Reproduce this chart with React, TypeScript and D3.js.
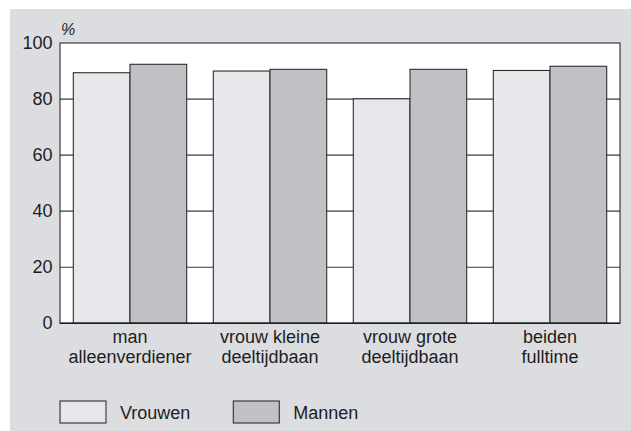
import React from "react";
import * as d3 from "d3";

const categories = [
  ["man", "alleenverdiener"],
  ["vrouw kleine", "deeltijdbaan"],
  ["vrouw grote", "deeltijdbaan"],
  ["beiden", "fulltime"],
];
const seriesNames = ["Vrouwen", "Mannen"];
const vrouwen = [89.4, 90.0, 80.1, 90.2];
const mannen = [92.4, 90.6, 90.6, 91.7];
const yTicks = [0, 20, 40, 60, 80, 100];
const unitLabel = "%";

const W = 631;
const H = 431;
const plot = { left: 60, right: 620, top: 43, bottom: 323.3 };
const colors: Record<string, string> = { Vrouwen: "#e6e7eb", Mannen: "#c0c1c5" };
const FONT = "'Liberation Sans', Arial, Helvetica, sans-serif";
const FS = 18;

export default function App() {
  const keys = categories.map((c) => c.join(" "));
  const x0 = d3
    .scaleBand<string>()
    .domain(keys)
    .range([plot.left, plot.right])
    .paddingInner(0.19)
    .paddingOuter(0.095);
  const x1 = d3.scaleBand<string>().domain(seriesNames).range([0, x0.bandwidth()]);
  const y = d3.scaleLinear().domain([0, 100]).range([plot.bottom, plot.top]);
  const values: Record<string, number[]> = { Vrouwen: vrouwen, Mannen: mannen };

  return (
    <svg
      width={W}
      height={H}
      style={{ position: "absolute", left: 0, top: 0 }}
      fontFamily={FONT}
    >
      <rect x={10} y={9} width={W - 10} height={H - 9} fill="#dcdde0" />
      <rect
        x={plot.left}
        y={plot.top}
        width={plot.right - plot.left}
        height={plot.bottom - plot.top}
        fill="#ffffff"
      />
      {yTicks.map((t) => (
        <g key={t}>
          {t > 0 && t < 100 && (
            <line
              x1={plot.left}
              x2={plot.right}
              y1={y(t)}
              y2={y(t)}
              stroke="#3a3a3a"
              strokeWidth={1.2}
            />
          )}
          <text
            x={52.5}
            y={y(t)}
            textAnchor="end"
            dominantBaseline="central"
            fontSize={FS}
            fill="#1e1e1e"
          >
            {t}
          </text>
        </g>
      ))}
      <text x={61} y={34.5} fontSize={16} fontStyle="italic" fill="#1e1e1e">
        {unitLabel}
      </text>
      {keys.map((k, i) => (
        <g key={k}>
          {seriesNames.map((s) => {
            const v = values[s][i];
            const bx = (x0(k) as number) + (x1(s) as number);
            return (
              <rect
                key={s}
                x={bx}
                y={y(v)}
                width={x1.bandwidth()}
                height={y(0) - y(v)}
                fill={colors[s]}
                stroke="#2e2e2e"
                strokeWidth={1.1}
              />
            );
          })}
          {categories[i].map((line, j) => (
            <text
              key={j}
              x={(x0(k) as number) + x0.bandwidth() / 2}
              y={342.5 + j * 20.5}
              textAnchor="middle"
              fontSize={FS}
              fill="#1e1e1e"
            >
              {line}
            </text>
          ))}
        </g>
      ))}
      <rect
        x={plot.left}
        y={plot.top}
        width={plot.right - plot.left}
        height={plot.bottom - plot.top}
        fill="none"
        stroke="#3a3a3a"
        strokeWidth={1.2}
      />
      <line
        x1={plot.left}
        x2={plot.right}
        y1={y(0)}
        y2={y(0)}
        stroke="#1e1e1e"
        strokeWidth={1.4}
      />
      {seriesNames.map((s, i) => {
        const lx = i === 0 ? 60 : 233.3;
        return (
          <g key={s}>
            <rect
              x={lx}
              y={401}
              width={46}
              height={22}
              fill={colors[s]}
              stroke="#2e2e2e"
              strokeWidth={1.1}
            />
            <text x={lx + 60} y={419} fontSize={FS} fill="#1e1e1e">
              {s}
            </text>
          </g>
        );
      })}
    </svg>
  );
}
